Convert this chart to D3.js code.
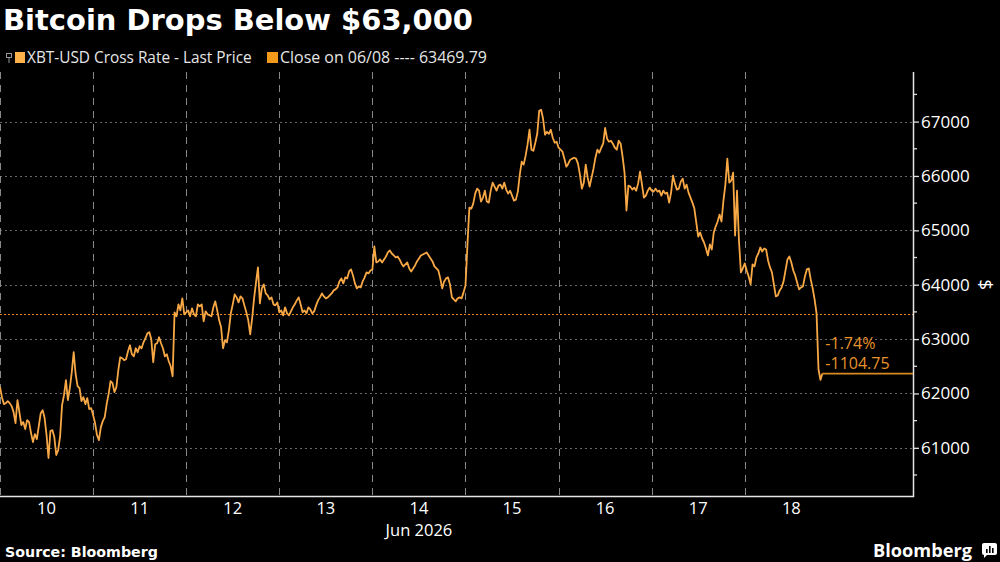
<!DOCTYPE html>
<html>
<head>
<meta charset="utf-8">
<script src="https://cdn.jsdelivr.net/npm/d3@7"></script>
<style>
  html, body { margin: 0; padding: 0; background: #000; }
  svg { display: block; }
</style>
</head>
<body>
<div id="chart"></div>
<script>
// ----------------------------------
// DATA
// ----------------------------------
const title = "Bitcoin Drops Below $63,000";
const seriesName = "XBT-USD Cross Rate - Last Price";
const closeDate = "06/08";
const prevClose = 63469.79;
const monthLabel = "Jun 2026";
const sourceText = "Source: Bloomberg";

// half-hourly last price, starting at startTime
const startTime = "2026-06-10T00:00";
const stepMinutes = 30;
const xEndTime = "2026-06-19T19:22";
const prices = [
  62121, 61932, 61804, 61822, 61859, 61822, 61767, 61657, 61455, 61877,
  61657, 61418, 61473, 61345, 61510, 61473, 61271, 61106, 61253, 61161,
  61400, 61638, 61693, 61547, 61235, 60813, 61308, 61326, 61198, 60868,
  60959, 61216, 61785, 61968, 62244, 61877, 62097, 62391, 62758, 62354,
  62134, 62097, 61859, 61932, 61804, 61914, 61712, 61730, 61602, 61455,
  61235, 61143, 61381, 61491, 61565, 61804, 61987, 62226, 62189, 62024,
  62115, 62427, 62666, 62648, 62611, 62629, 62776, 62886, 62721, 62684,
  62831, 62758, 62868, 62831, 62941, 63015, 63106, 63125, 62996, 62574,
  62904, 62923, 63033, 62923, 62831, 62684, 62721, 62593, 62501, 62317,
  63492, 63419, 63639, 63528, 63749, 63455, 63492, 63528, 63419, 63565,
  63455, 63419, 63639, 63602, 63639, 63327, 63510, 63455, 63437, 63419,
  63584, 63694, 63528, 63345, 63216, 62831, 62978, 62941, 63161, 63473,
  63639, 63822, 63767, 63675, 63785, 63749, 63620, 63492, 63345, 63088,
  63382, 63749, 64042, 64318, 63657, 63932, 64006, 63840, 63804, 63730,
  63767, 63639, 63620, 63675, 63492, 63528, 63437, 63584, 63473, 63437,
  63510, 63584, 63639, 63712, 63767, 63639, 63492, 63528, 63473, 63584,
  63547, 63473, 63510, 63620, 63712, 63767, 63840, 63785, 63749, 63767,
  63804, 63840, 63895, 63914, 63950, 64061, 64116, 64024, 64134, 64116,
  64244, 64281, 64171, 64024, 63932, 63969, 63950, 64061, 64134, 64226,
  64208, 64262, 64281, 64703, 64409, 64428, 64464, 64409, 64464, 64519,
  64593, 64629, 64574, 64538, 64501, 64519, 64464, 64391, 64336, 64373,
  64409, 64299, 64244, 64299, 64354, 64428, 64483, 64538, 64556, 64574,
  64593, 64538, 64483, 64428, 64336, 64299, 64262, 64116, 63932, 64061,
  64116, 64134, 64006, 63767, 63730, 63694, 63749, 63767, 63749, 63859,
  63987, 64721, 65419, 65400, 65492, 65675, 65767, 65730, 65529, 65602,
  65730, 65529, 65510, 65730, 65877, 65804, 65730, 65822, 65841, 65767,
  65877, 65749, 65675, 65730, 65639, 65547, 65565, 65712, 66024, 66263,
  66208, 66373, 66575, 66850, 66483, 66464, 66611, 66776, 67198, 67217,
  67052, 66758, 66813, 66776, 66850, 66703, 66611, 66630, 66519, 66483,
  66446, 66318, 66171, 66226, 66299, 66318, 66336, 66318, 66226, 66024,
  65767, 65877, 66208, 65969, 65804, 65969, 66134, 66336, 66483, 66428,
  66519, 66593, 66886, 66685, 66630, 66648, 66593, 66519, 66483, 66648,
  66593, 66354, 66061, 65364, 65822, 65804, 65749, 65786, 65730, 65859,
  66079, 65841, 65602, 65639, 65730, 65786, 65730, 65712, 65767, 65712,
  65730, 65639, 65730, 65675, 65694, 65510, 65694, 66006, 65859, 65749,
  65767, 65896, 65951, 65767, 65841, 65694, 65602, 65510, 65400, 65143,
  64886, 64960, 64850, 64776, 64666, 64538, 64740, 64648, 64960, 65070,
  65162, 65290, 65162, 65547, 65841, 66318, 65877, 65914, 66061, 64905,
  65730, 64813, 64226, 64299, 64391, 64262, 64152, 64006, 64373, 64336,
  64501, 64574, 64684, 64611, 64666, 64648, 64446, 64318, 64226, 64006,
  63785, 63804, 63895, 63950, 64061, 64262, 64464, 64519, 64409, 64262,
  64171, 64042, 63914, 63950, 63969, 64152, 64281, 64299, 64097, 63932,
  63730, 63473, 62450, 62250, 62365.04
];

const dayTicks = [10, 11, 12, 13, 14, 15, 16, 17, 18];
const gridDays = [10, 11, 12, 13, 14, 15, 16, 17, 18];
const yTicks = [61000, 62000, 63000, 64000, 65000, 66000, 67000];
const yMinorTicks = [60500, 61500, 62500, 63500, 64500, 65500, 66500, 67500];

// ----------------------------------
// SETUP
// ----------------------------------
const width = 1000, height = 562;
const plot = { left: 0, right: 913, top: 72, bottom: 496 };

const parseTime = d3.timeParse("%Y-%m-%dT%H:%M");
const t0 = parseTime(startTime);
const data = prices.map((v, i) => ({ date: d3.timeMinute.offset(t0, i * stepMinutes), value: v }));
const last = data[data.length - 1];
const change = last.value - prevClose;
const changePct = change / prevClose * 100;

const xScale = d3.scaleTime()
  .domain([t0, parseTime(xEndTime)])
  .range([plot.left, plot.right]);

const yScale = d3.scaleLinear()
  .domain([60114, 67912])
  .range([plot.bottom, plot.top]);

const dayDate = d => new Date(2026, 5, d);

const svg = d3.select("#chart").append("svg")
  .attr("width", width)
  .attr("height", height)
  .style("background", "#000");

// scale font size so a text spans a given width
function fitWidth(sel, w) {
  const cur = sel.node().getComputedTextLength();
  const fs = parseFloat(sel.attr("font-size"));
  sel.attr("font-size", (fs * w / cur).toFixed(2));
}

// ----------------------------------
// GRID
// ----------------------------------
svg.append("g").selectAll("line")
  .data(yTicks)
  .join("line")
  .attr("x1", plot.left).attr("x2", plot.right)
  .attr("y1", d => Math.round(yScale(d)) + 0.5)
  .attr("y2", d => Math.round(yScale(d)) + 0.5)
  .attr("stroke", "#6a6a6a")
  .attr("stroke-dasharray", "2,3");

svg.append("g").selectAll("line")
  .data(gridDays)
  .join("line")
  .attr("x1", d => Math.round(xScale(dayDate(d))) + 0.5)
  .attr("x2", d => Math.round(xScale(dayDate(d))) + 0.5)
  .attr("y1", plot.top).attr("y2", plot.bottom)
  .attr("stroke", "#888")
  .attr("stroke-dasharray", "7,6");

// previous close reference line
svg.append("line")
  .attr("x1", plot.left).attr("x2", plot.right)
  .attr("y1", Math.round(yScale(prevClose)) + 0.5)
  .attr("y2", Math.round(yScale(prevClose)) + 0.5)
  .attr("stroke", "#e8861a")
  .attr("stroke-width", 1.2)
  .attr("stroke-dasharray", "2,2");

// ----------------------------------
// AXES
// ----------------------------------
const yAxis = d3.axisRight(yScale)
  .tickValues(yTicks)
  .tickSize(6)
  .tickPadding(2)
  .tickFormat(d3.format("d"));

const yAxisG = svg.append("g")
  .attr("class", "y axis")
  .attr("transform", `translate(${plot.right},0)`)
  .call(yAxis);
yAxisG.select(".domain").remove();
yAxisG.selectAll(".tick line").attr("stroke", "#ddd").attr("stroke-width", 1.3);
yAxisG.selectAll(".tick text")
  .attr("fill", "#fff")
  .attr("font-family", "'Open Sans', sans-serif")
  .attr("font-size", 17);

svg.append("g").selectAll("line")
  .data(yMinorTicks)
  .join("line")
  .attr("x1", plot.right).attr("x2", plot.right + 4)
  .attr("y1", d => yScale(d)).attr("y2", d => yScale(d))
  .attr("stroke", "#ddd").attr("stroke-width", 1.3);

svg.append("text")
  .attr("transform", `translate(986,${yScale(64000)}) rotate(90)`)
  .attr("text-anchor", "middle")
  .attr("dominant-baseline", "central")
  .attr("fill", "#fff")
  .attr("font-family", "'Open Sans', sans-serif")
  .attr("font-size", 19)
  .text("$");

// axis frame
svg.append("path")
  .attr("d", `M${plot.left},${plot.bottom + 0.5}H${plot.right + 0.5}V${plot.top}`)
  .attr("fill", "none")
  .attr("stroke", "#e6e6e6")
  .attr("stroke-width", 1.5);

// day labels at noon
svg.append("g").selectAll("text")
  .data(dayTicks)
  .join("text")
  .attr("x", d => xScale(d3.timeHour.offset(dayDate(d), 12)))
  .attr("y", 514)
  .attr("text-anchor", "middle")
  .attr("fill", "#fff")
  .attr("font-family", "'Open Sans', sans-serif")
  .attr("font-size", 16.5)
  .text(d => d);

svg.append("text")
  .attr("x", xScale(d3.timeHour.offset(dayDate(14), 12)))
  .attr("y", 536)
  .attr("text-anchor", "middle")
  .attr("fill", "#fff")
  .attr("font-family", "'Open Sans', sans-serif")
  .attr("font-size", 16.5)
  .text(monthLabel);

// ----------------------------------
// PRICE LINE
// ----------------------------------
const line = d3.line()
  .x(d => xScale(d.date))
  .y(d => yScale(d.value));

svg.append("path")
  .datum(data)
  .attr("d", line)
  .attr("fill", "none")
  .attr("stroke", "#f8a845")
  .attr("stroke-width", 1.8)
  .attr("stroke-linejoin", "round");

// last price marker line
svg.append("line")
  .attr("x1", xScale(last.date)).attr("x2", plot.right)
  .attr("y1", yScale(last.value)).attr("y2", yScale(last.value))
  .attr("stroke", "#d98a22")
  .attr("stroke-width", 1.6);

const annot = svg.append("g")
  .attr("fill", "#e8922a")
  .attr("font-family", "'Open Sans', sans-serif")
  .attr("font-size", 16);
annot.append("text")
  .attr("x", xScale(last.date) + 3)
  .attr("y", yScale(last.value) - 25)
  .text(changePct.toFixed(2) + "%");
annot.append("text")
  .attr("x", xScale(last.date) + 3)
  .attr("y", yScale(last.value) - 5)
  .text(change.toFixed(2));

// ----------------------------------
// TITLE, LEGEND, FOOTER
// ----------------------------------
const titleText = svg.append("text")
  .attr("x", 3).attr("y", 30)
  .attr("fill", "#fff")
  .attr("font-family", "'DejaVu Sans', sans-serif")
  .attr("font-weight", "bold")
  .attr("font-size", 26)
  .text(title);
fitWidth(titleText, 470);

// legend pin icon
svg.append("rect")
  .attr("x", 6.5).attr("y", 53.5).attr("width", 5).attr("height", 4)
  .attr("fill", "none").attr("stroke", "#999");
svg.append("line")
  .attr("x1", 9).attr("x2", 9).attr("y1", 57.5).attr("y2", 63)
  .attr("stroke", "#999");

svg.append("rect")
  .attr("x", 15).attr("y", 52).attr("width", 10).attr("height", 11)
  .attr("fill", "#fcb049");
const leg1 = svg.append("text")
  .attr("x", 27).attr("y", 63)
  .attr("fill", "#e6e6e6")
  .attr("font-family", "'Open Sans', sans-serif")
  .attr("font-size", 15)
  .text(seriesName);
fitWidth(leg1, 225);

svg.append("rect")
  .attr("x", 267).attr("y", 52).attr("width", 11).attr("height", 11)
  .attr("fill", "#f39a1a");
const leg2 = svg.append("text")
  .attr("x", 280).attr("y", 63)
  .attr("fill", "#e6e6e6")
  .attr("font-family", "'Open Sans', sans-serif")
  .attr("font-size", 15)
  .text(`Close on ${closeDate} ---- ${prevClose}`);
fitWidth(leg2, 207);

const src = svg.append("text")
  .attr("x", 5).attr("y", 557)
  .attr("fill", "#fff")
  .attr("font-family", "'DejaVu Sans', sans-serif")
  .attr("font-weight", "bold")
  .attr("font-size", 14)
  .text(sourceText);
fitWidth(src, 153);

const logo = svg.append("text")
  .attr("x", 873).attr("y", 557)
  .attr("fill", "#fff")
  .attr("font-family", "'Open Sans', sans-serif")
  .attr("font-weight", "bold")
  .attr("font-size", 20)
  .text("Bloomberg");
fitWidth(logo, 99);

// logo mark
const mark = svg.append("g").attr("transform", "translate(982,543)");
mark.append("rect")
  .attr("width", 15).attr("height", 12).attr("rx", 2)
  .attr("fill", "#fff");
mark.append("path")
  .attr("d", "M2,12 L2,15 L5,12 Z")
  .attr("fill", "#fff");
mark.selectAll(".bar")
  .data([[4, 6], [7, 3], [10, 5]])
  .join("rect")
  .attr("x", d => d[0]).attr("y", d => d[1])
  .attr("width", 1.6).attr("height", d => 10 - d[1])
  .attr("fill", "#000");
</script>
</body>
</html>
